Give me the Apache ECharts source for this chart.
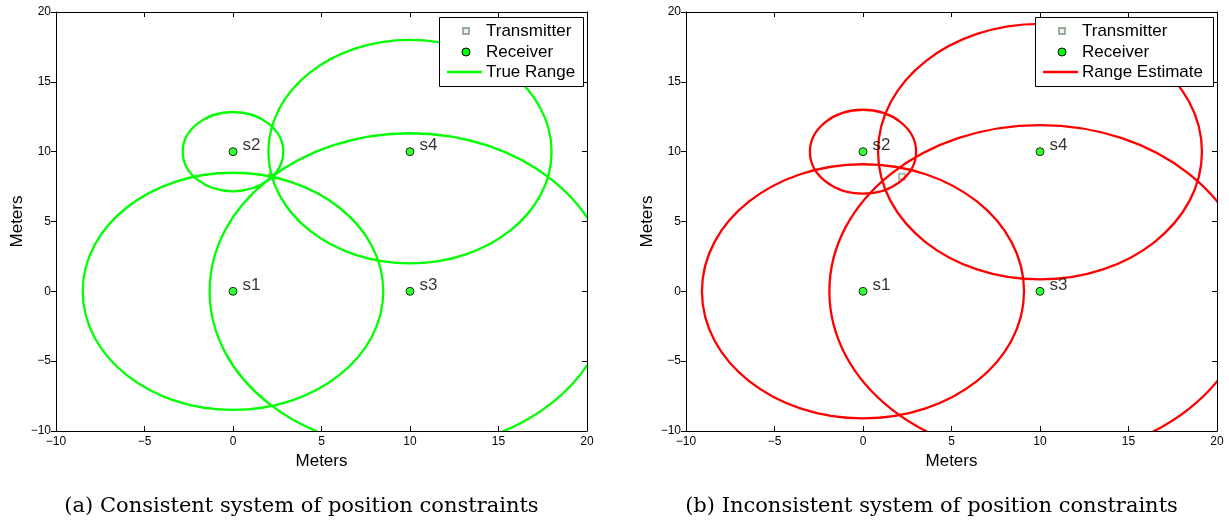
<!DOCTYPE html>
<html>
<head>
<meta charset="utf-8">
<script src="https://cdn.jsdelivr.net/npm/echarts@6/dist/echarts.min.js"></script>
<style>
  html, body { margin: 0; padding: 0; background: #fff; }
  #chart { width: 1229px; height: 520px; }
</style>
</head>
<body>
<div id="chart"></div>
<script>
// Receiver positions (meters)
const sensorNames = ['s1', 's2', 's3', 's4'];
const sensorX = [0, 0, 10, 10];
const sensorY = [0, 10, 0, 10];
// Transmitter position (meters)
const transmitterXY = [2.2, 8.2];
// Range to each receiver: exact ranges and noisy estimates
const trueRange = [8.49, 2.84, 11.32, 8.0];
const estimatedRange = [9.1, 3.0, 11.9, 9.15];
// Axis extents and tick spacing
const axisMin = -10;
const axisMax = 20;
const tickStep = 5;
// Panel captions and legend entries
const captions = ['(a) Consistent system of position constraints',
                  '(b) Inconsistent system of position constraints'];
const legendLabels = [['Transmitter', 'Receiver', 'True Range'],
                      ['Transmitter', 'Receiver', 'Range Estimate']];
const axisTitle = 'Meters';

const FONT = '"Liberation Sans", Arial, Helvetica, sans-serif';
const minus = v => (v < 0 ? '\u2212' + Math.abs(v) : String(v));

const panels = [
  { left: 56, ranges: trueRange, color: '#00ff00', legendX: 439, legendW: 144 },
  { left: 686, ranges: estimatedRange, color: '#ff0000', legendX: 1035, legendW: 178 }
];
const gridTop = 12, gridW = 531, gridH = 419;
const LINE_W = 2.3;

const chart = echarts.init(document.getElementById('chart'), null, { renderer: 'canvas' });

const grid = [], xAxis = [], yAxis = [], series = [], graphic = [];

panels.forEach((p, i) => {
  grid.push({ left: p.left, top: gridTop, width: gridW, height: gridH, show: false });
  const common = {
    type: 'value', min: axisMin, max: axisMax, interval: tickStep, gridIndex: i,
    axisLine: { show: true, onZero: false, lineStyle: { color: '#000', width: 1 } },
    splitLine: { show: false }
  };
  const tick = inside => ({ show: true, inside, length: 5, lineStyle: { color: '#000', width: 1 } });
  const label = { show: true, color: '#000', fontSize: 12, fontFamily: FONT, formatter: minus };
  xAxis.push(Object.assign({}, common, {
    position: 'bottom', axisTick: tick(true), axisLabel: Object.assign({ margin: 5 }, label),
    name: axisTitle, nameLocation: 'middle', nameGap: 21,
    nameTextStyle: { color: '#000', fontSize: 17, fontFamily: FONT, verticalAlign: 'top' }
  }));
  xAxis.push(Object.assign({}, common, { position: 'top', axisTick: tick(true), axisLabel: { show: false } }));
  yAxis.push(Object.assign({}, common, {
    position: 'left', axisTick: tick(false), axisLabel: Object.assign({ margin: 5 }, label),
    name: axisTitle, nameLocation: 'middle', nameGap: 30,
    nameTextStyle: { color: '#000', fontSize: 17, fontFamily: FONT }
  }));
  yAxis.push(Object.assign({}, common, { position: 'right', axisTick: tick(true), axisLabel: { show: false } }));

  const xi = i * 2, yi = i * 2;

  // Transmitter (drawn beneath the range circles)
  series.push({
    type: 'scatter', xAxisIndex: xi, yAxisIndex: yi, z: 2,
    symbol: 'rect', symbolSize: 6,
    itemStyle: { color: '#eef2ee', borderColor: '#98ae98', borderWidth: 2 },
    data: [transmitterXY]
  });

  // Range circles around each receiver
  series.push({
    type: 'custom', xAxisIndex: xi, yAxisIndex: yi, z: 3, clip: true,
    encode: { x: 0, y: 1 },
    data: sensorX.map((x, k) => [x, sensorY[k], p.ranges[k]]),
    renderItem: (params, api) => {
      const c = api.coord([api.value(0), api.value(1)]);
      const s = api.size([api.value(2), api.value(2)]);
      return {
        type: 'ellipse',
        shape: { cx: c[0], cy: c[1], rx: s[0], ry: s[1] },
        style: { fill: 'none', stroke: p.color, lineWidth: LINE_W }
      };
    }
  });

  // Receivers with their labels
  series.push({
    type: 'scatter', xAxisIndex: xi, yAxisIndex: yi, z: 4,
    symbol: 'circle', symbolSize: 8,
    itemStyle: { color: '#00ff00', borderColor: '#000', borderWidth: 1 },
    label: {
      show: true, position: 'right', distance: 5, offset: [0, -6],
      formatter: d => d.name, color: '#000', fontSize: 17, fontFamily: FONT
    },
    data: sensorX.map((x, k) => ({ name: sensorNames[k], value: [x, sensorY[k]] }))
  });

  // Legend box
  const lx = p.legendX, ly = 17, lh = 69;
  const iconX = lx + 27, textX = lx + 47;
  const rows = [31, 52, 72];
  graphic.push({
    type: 'rect', z: 100, shape: { x: lx + 0.5, y: ly + 0.5, width: p.legendW, height: lh },
    style: { fill: '#fff', stroke: '#000', lineWidth: 1 }
  });
  graphic.push({
    type: 'rect', z: 101, shape: { x: iconX - 3, y: rows[0] - 3, width: 6, height: 6 },
    style: { fill: '#eef2ee', stroke: '#98ae98', lineWidth: 2 }
  });
  graphic.push({
    type: 'circle', z: 101, shape: { cx: iconX, cy: rows[1], r: 4 },
    style: { fill: '#00ff00', stroke: '#000', lineWidth: 1 }
  });
  graphic.push({
    type: 'line', z: 101, shape: { x1: lx + 8, y1: rows[2], x2: lx + 43, y2: rows[2] },
    style: { stroke: p.color, lineWidth: LINE_W }
  });
  legendLabels[i].forEach((t, k) => {
    graphic.push({
      type: 'text', z: 101, x: textX, y: rows[k],
      style: { text: t, fill: '#000', font: '17px ' + FONT, textAlign: 'left', textVerticalAlign: 'middle' }
    });
  });

  // Caption under the panel
  graphic.push({
    type: 'text', z: 101, x: p.left + gridW / 2 - 20, y: 507,
    style: { text: captions[i], fill: '#000', font: '21px "DejaVu Serif", serif', textAlign: 'center', textVerticalAlign: 'middle' }
  });
});

chart.setOption({
  animation: false,
  backgroundColor: '#fff',
  grid, xAxis, yAxis, series, graphic
});
</script>
</body>
</html>
